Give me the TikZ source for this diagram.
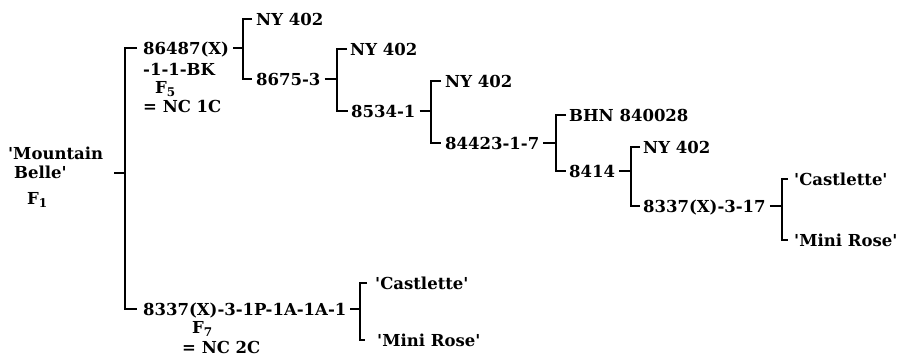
\documentclass[tikz,border=0pt]{standalone}
\usepackage{fontspec}
\setmainfont{DejaVu Serif}
\newcommand\subn[1]{\raisebox{-3.5pt}{\fontsize{12}{12}\selectfont #1}}
\newcommand\qq{\textquotesingle}
\begin{document}
\begin{tikzpicture}[x=1pt,y=-1pt,
  lbl/.style={anchor=west, inner sep=0pt, text height=12pt, text depth=0pt,
              font=\fontsize{16.5}{19}\selectfont\bfseries},
  ln/.style={line width=1.5pt, line cap=butt, line join=miter}]
\useasboundingbox (0,0) rectangle (898,356);
% root
\node[lbl] (mtn) at (8,153) {\qq Mountain};
\node[lbl] (belle) at (14,172) {Belle\qq};
\node[lbl] (f1) at (27,198) {F\subn{1}};
% first generation
\node[lbl] (a) at (143,48) {86487(X)};
\node[lbl] (a2) at (143,69) {-1-1-BK};
\node[lbl] (a3) at (155,87) {F\subn{5}};
\node[lbl] (a4) at (143,106) {= NC 1C};
\node[lbl] (b) at (143,309) {8337(X)-3-1P-1A-1A-1};
\node[lbl] (b2) at (192,327) {F\subn{7}};
\node[lbl] (b3) at (182,347) {= NC 2C};
% ladder
\node[lbl] (ny1) at (256,19) {NY 402};
\node[lbl] (c1) at (256,79) {8675-3};
\node[lbl] (ny2) at (350,49) {NY 402};
\node[lbl] (c2) at (351,111) {8534-1};
\node[lbl] (ny3) at (445,81) {NY 402};
\node[lbl] (c3) at (445,143) {84423-1-7};
\node[lbl] (bhn) at (569,115) {BHN 840028};
\node[lbl] (c4) at (569,171) {8414};
\node[lbl] (ny4) at (643,147) {NY 402};
\node[lbl] (c5) at (643,206) {8337(X)-3-17};
\node[lbl] (cas1) at (794,179) {\qq Castlette\qq};
\node[lbl] (mr1) at (794,240) {\qq Mini Rose\qq};
\node[lbl] (cas2) at (375,283) {\qq Castlette\qq};
\node[lbl] (mr2) at (377,340) {\qq Mini Rose\qq};
% vertical positions of the brackets
\coordinate (v0) at (125,173);
\coordinate (va) at (243,0);
\coordinate (v1) at (337,0);
\coordinate (v2) at (431,0);
\coordinate (v3) at (556,0);
\coordinate (v4) at (631,0);
\coordinate (v5) at (782,0);
\coordinate (vb) at (360,0);
% root bracket
\draw[ln] ([xshift=11pt]mtn.east |- v0) -- (v0);
\draw[ln, line width=1.8pt] ([xshift=-6pt]a.west) -| (v0) |- ([xshift=-6pt]b.west);
% 86487(X)
\draw[ln] ([xshift=4pt]a.east) -- (a.east -| va);
\draw[ln] ([xshift=-4pt]ny1.west) -| (a.east -| va) |- ([xshift=-4pt]c1.west);
% 8675-3
\draw[ln] ([xshift=4pt]c1.east) -- (c1.east -| v1);
\draw[ln] ([xshift=-3pt]ny2.west) -| (c1.east -| v1) |- ([xshift=-3pt]c2.west);
% 8534-1
\draw[ln] ([xshift=4pt]c2.east) -- (c2.east -| v2);
\draw[ln] ([xshift=-4pt]ny3.west) -| (c2.east -| v2) |- ([xshift=-4pt]c3.west);
% 84423-1-7
\draw[ln] ([xshift=4pt]c3.east) -- (c3.east -| v3);
\draw[ln] ([xshift=-3pt]bhn.west) -| (c3.east -| v3) |- ([xshift=-3pt]c4.west);
% 8414
\draw[ln] ([xshift=4pt]c4.east) -- (c4.east -| v4);
\draw[ln] ([xshift=-3pt]ny4.west) -| (c4.east -| v4) |- ([xshift=-3pt]c5.west);
% 8337(X)-3-17
\draw[ln] ([xshift=4pt]c5.east) -- (c5.east -| v5);
\draw[ln] ([xshift=-6pt]cas1.west) -| (c5.east -| v5) |- ([xshift=-6pt]mr1.west);
% 8337(X)-3-1P-1A-1A-1
\draw[ln] ([xshift=4pt]b.east) -- (b.east -| vb);
\draw[ln] ([xshift=-8pt]cas2.west) -| (b.east -| vb) |- ([xshift=-12pt]mr2.west);
\end{tikzpicture}
\end{document}
